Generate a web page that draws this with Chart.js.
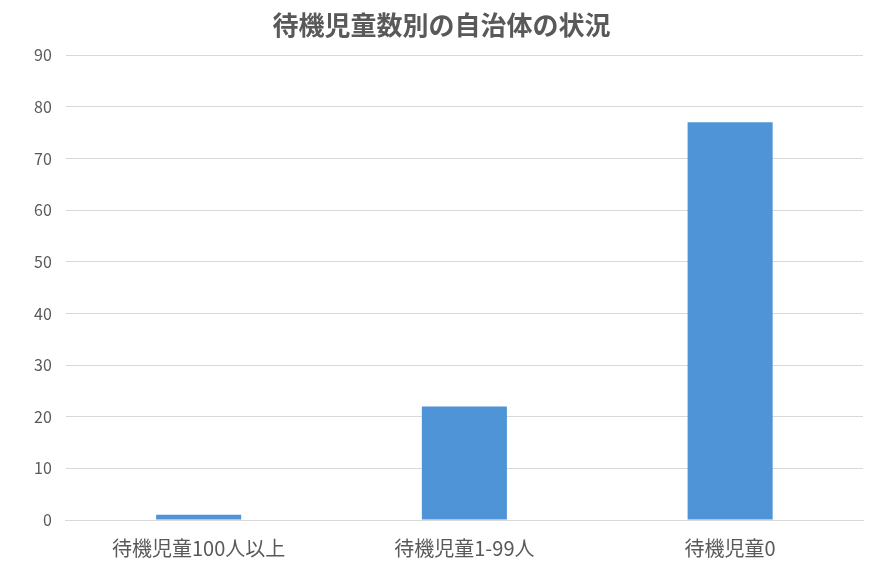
<!DOCTYPE html>
<html><head><meta charset="utf-8">
<script src="https://cdn.jsdelivr.net/npm/chart.js@4/dist/chart.umd.min.js"></script>
<style>html,body{margin:0;padding:0;background:#fff}#w{width:889px;height:574px}</style>
</head><body><div id="w"><canvas id="c"></canvas></div>
<script>
const categories = ["待機児童100人以上", "待機児童1-99人", "待機児童0"];
const values = [1, 22, 77];
const font = "'Noto Sans CJK JP', 'Noto Sans', sans-serif";
new Chart(document.getElementById('c'), {
  type: 'bar',
  data: { labels: categories, datasets: [{ data: values, backgroundColor: '#4f94d6', barPercentage: 0.32, categoryPercentage: 1 }] },
  options: {
    responsive: true, maintainAspectRatio: false, animation: false,
    layout: { padding: { left: 20, right: 26, top: 4, bottom: 6 } },
    plugins: {
      legend: { display: false }, tooltip: { enabled: false },
      title: { display: true, text: '待機児童数別の自治体の状況', color: '#595959', font: { family: font, size: 26 }, padding: { top: 6, bottom: 14 } }
    },
    scales: {
      y: { min: 0, max: 90, ticks: { stepSize: 10, color: '#595959', font: { family: font, size: 16 }, padding: 14 },
           grid: { color: '#d9d9d9', drawTicks: false }, border: { display: false } },
      x: { ticks: { color: '#595959', font: { family: font, size: 20 }, padding: 8 },
           grid: { display: false }, border: { color: '#d9d9d9' } }
    }
  }
});
</script></body></html>
